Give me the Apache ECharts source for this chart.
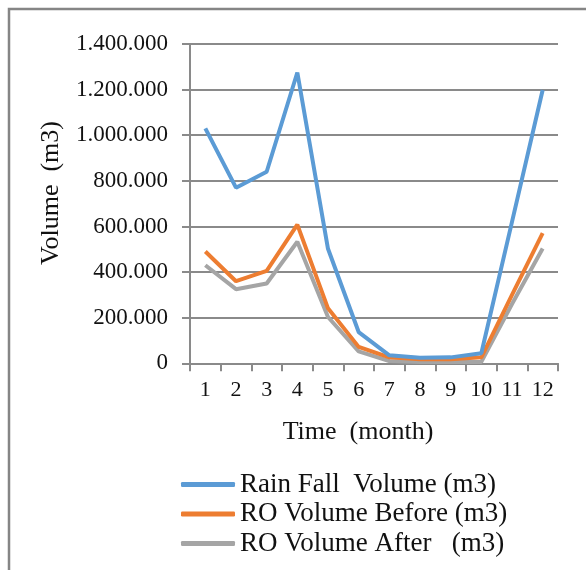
<!DOCTYPE html>
<html><head><meta charset="utf-8">
<script src="https://cdn.jsdelivr.net/npm/echarts@6/dist/echarts.min.js"></script>
<style>html,body{margin:0;padding:0;background:#fff}#c{width:586px;height:570px}</style>
</head><body><div id="c"></div>
<script>
const months = ['1','2','3','4','5','6','7','8','9','10','11','12'];
const rainFall = [1030000, 770000, 840000, 1275000, 502000, 137000, 35000, 24000, 26000, 44000, 620000, 1198000];
const roBefore = [490000, 360000, 405000, 608000, 241000, 72000, 26000, 18000, 18000, 26000, 300000, 571000];
const roAfter  = [430000, 325000, 350000, 533000, 203000, 52000, 10000, 6000, 6000, 6000, 260000, 503000];
const seriesNames = ['Rain Fall  Volume (m3)', 'RO Volume Before (m3)', 'RO Volume After   (m3)'];
const yTicks = {min: 0, max: 1400000, interval: 200000};

const font = 'Liberation Serif';
const fmt = v => v === 0 ? '0' : String(v).replace(/\B(?=(\d{3})+(?!\d))/g, '.');
const chart = echarts.init(document.getElementById('c'));
chart.setOption({
  animation: false,
  backgroundColor: '#fff',
  grid: {left: 190, right: 28, top: 44, bottom: 206.7},
  xAxis: {
    type: 'category', data: months, boundaryGap: true,
    axisLine: {lineStyle: {color: '#8a8a8a', width: 2}},
    axisTick: {show: true, length: 8, interval: 0, lineStyle: {color: '#8a8a8a', width: 2}},
    axisLabel: {interval: 0, color: '#111', fontFamily: font, fontSize: 22, margin: 16}
  },
  yAxis: {
    type: 'value', min: yTicks.min, max: yTicks.max, interval: yTicks.interval,
    axisLine: {show: true, lineStyle: {color: '#8a8a8a', width: 2}},
    axisTick: {show: true, length: 8, lineStyle: {color: '#8a8a8a', width: 2}},
    splitLine: {lineStyle: {color: '#8a8a8a', width: 2}},
    axisLabel: {color: '#111', fontFamily: font, fontSize: 23, margin: 22, formatter: fmt}
  },
  legend: {
    orient: 'vertical', left: 176, top: 466, itemWidth: 54, itemHeight: 5, itemGap: 2.5,
    icon: 'roundRect',
    textStyle: {fontFamily: font, fontSize: 27, color: '#111', lineHeight: 27},
    data: seriesNames
  },
  series: [
    {name: seriesNames[0], type: 'line', data: rainFall, symbol: 'none', lineStyle: {width: 4, color: '#5B9BD5'}, itemStyle: {color: '#5B9BD5'}, z: 3},
    {name: seriesNames[1], type: 'line', data: roBefore, symbol: 'none', lineStyle: {width: 4, color: '#ED7D31'}, itemStyle: {color: '#ED7D31'}, z: 2},
    {name: seriesNames[2], type: 'line', data: roAfter, symbol: 'none', lineStyle: {width: 4, color: '#A5A5A5'}, itemStyle: {color: '#A5A5A5'}, z: 1}
  ],
  graphic: [
    {type: 'rect', shape: {x: 9, y: 9, width: 620, height: 620}, style: {fill: null, stroke: '#858585', lineWidth: 2.5}, silent: true},
    {type: 'text', x: 358, y: 432, style: {text: 'Time  (month)', font: '26px "Liberation Serif"', fill: '#111', textAlign: 'center', textVerticalAlign: 'middle'}},
    {type: 'text', x: 51, y: 193, rotation: Math.PI/2, style: {text: 'Volume  (m3)', font: '26px "Liberation Serif"', fill: '#111', textAlign: 'center', textVerticalAlign: 'middle'}}
  ]
});
</script></body></html>
